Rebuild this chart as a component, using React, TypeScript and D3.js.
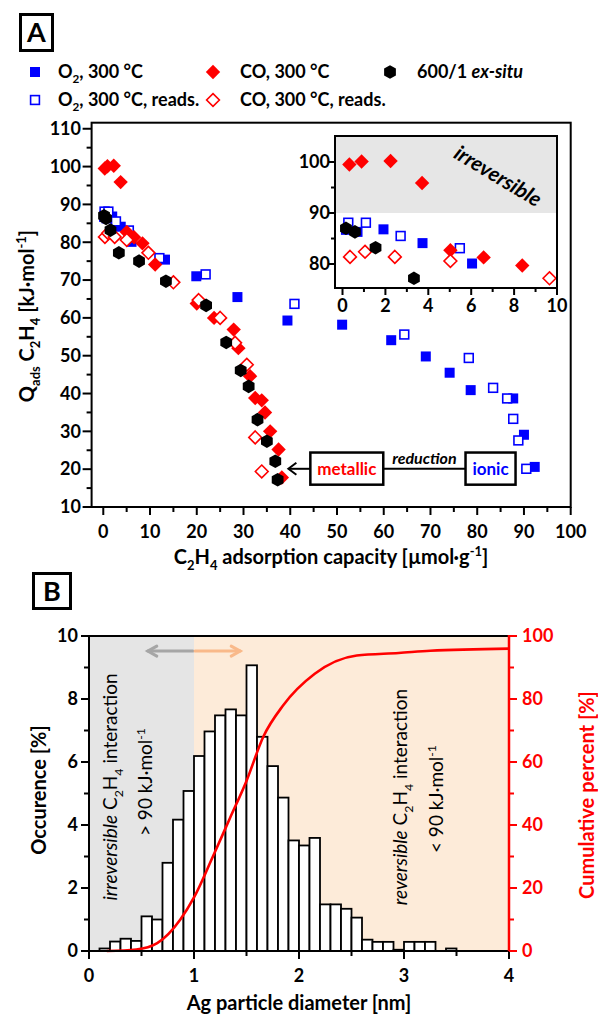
import * as d3 from "d3";

const W = 598;
const H = 1014;
const FONT = "Lato, 'Open Sans', sans-serif";
const BLUE = "#0000ff";
const RED = "#ff0000";

// ---- Panel A data (Q_ads vs adsorption capacity) ----
const o2X = [0.16, 0.7, 1.91, 3.73, 6.04, 13.2, 19.9, 28.7, 39.4, 51.1, 61.6, 69.0, 74.1, 78.6, 87.7, 90.0, 92.3];
const o2Y = [86.7, 86.3, 86.8, 84.1, 80.1, 75.4, 71.0, 65.5, 59.3, 58.2, 54.1, 49.8, 45.5, 40.9, 38.7, 29.1, 20.6];
const o2rX = [0.27, 1.09, 2.71, 5.47, 12.0, 21.9, 40.9, 64.4, 78.2, 83.4, 86.4, 87.7, 88.8, 90.5];
const o2rY = [88.1, 88.1, 85.5, 83.1, 75.8, 71.5, 63.7, 55.6, 49.4, 41.5, 38.7, 33.3, 27.6, 20.1];
const coX = [0.32, 0.89, 2.24, 3.71, 5.03, 6.58, 8.38, 11.1, 20.0, 23.7, 27.9, 28.9, 31.4, 32.5, 33.9, 34.6, 35.7, 37.5, 38.2];
const coY = [99.5, 100.1, 100.2, 95.9, 82.7, 81.3, 79.7, 74.1, 63.8, 60.0, 56.9, 52.0, 44.6, 38.8, 38.2, 35.0, 30.0, 25.2, 17.8];
const corX = [0.35, 1.05, 2.44, 5.03, 9.65, 15.0, 20.4, 25.0, 28.2, 30.7, 32.5, 33.9];
const corY = [81.4, 82.4, 81.4, 80.6, 77.2, 69.4, 64.7, 60.0, 53.4, 47.6, 28.4, 19.4];
const exX = [0.16, 0.58, 1.54, 3.33, 7.65, 13.4, 22.0, 26.3, 29.4, 31.1, 33.0, 35.0, 36.8, 37.3];
const exY = [87.0, 86.3, 83.2, 77.2, 75.0, 69.7, 63.3, 53.5, 46.1, 41.9, 33.1, 27.4, 22.1, 17.2];

const xTicksA = [0, 10, 20, 30, 40, 50, 60, 70, 80, 90, 100];
const yTicksA = [10, 20, 30, 40, 50, 60, 70, 80, 90, 100, 110];
const xTicksI = [0, 2, 4, 6, 8, 10];
const yTicksI = [80, 90, 100];

// ---- Panel B data (particle size histogram) ----
const binLo = [0.1, 0.2, 0.3, 0.4, 0.5, 0.6, 0.7, 0.8, 0.9, 1.0, 1.1, 1.2, 1.3, 1.4, 1.5, 1.6, 1.7, 1.8, 1.9, 2.0, 2.1, 2.2, 2.3, 2.4, 2.5, 2.6, 2.7, 2.8, 2.9, 3.0, 3.1, 3.2, 3.3, 3.4];
const occurence = [0.08, 0.3, 0.39, 0.32, 1.1, 1.0, 2.8, 4.17, 5.08, 6.19, 6.97, 7.48, 7.67, 7.48, 9.07, 6.8, 5.87, 4.87, 3.51, 3.35, 3.59, 1.48, 1.48, 1.34, 1.06, 0.36, 0.29, 0.29, 0.04, 0.29, 0.29, 0.29, 0, 0.08];
const cumX = [0.17, 0.45, 0.65, 0.87, 1.0, 1.18, 1.34, 1.5, 1.66, 1.85, 2.15, 2.55, 2.95, 3.25, 4.0];
const cumY = [0, 0.5, 2.5, 10, 17, 30, 42, 54, 68, 78, 88, 93.8, 94.6, 95.3, 96];
const xTicksB = [0, 1, 2, 3, 4];
const yTicksB = [0, 2, 4, 6, 8, 10];
const yTicksC = [0, 20, 40, 60, 80, 100];

type Part = [string, string?];
function Rich({ parts, fs }: { parts: Part[]; fs: number }) {
  let off = 0;
  return (
    <>
      {parts.map(([t, k], i) => {
        const target = k === "sub" ? fs * 0.3 : k === "sup" ? -fs * 0.38 : 0;
        const dy = target - off;
        off = target;
        const small = k === "sub" || k === "sup";
        return (
          <tspan key={i} dy={dy} fontSize={small ? fs * 0.65 : undefined} fontStyle={k === "i" ? "italic" : undefined}>
            {t}
          </tspan>
        );
      })}
    </>
  );
}

function Marker({ kind, x, y }: { kind: string; x: number; y: number }) {
  if (kind === "sq") return <rect x={x - 5} y={y - 5} width={10} height={10} fill={BLUE} />;
  if (kind === "sqo")
    return <rect x={x - 4.4} y={y - 4.4} width={8.8} height={8.8} fill="#fff" stroke={BLUE} strokeWidth={1.6} />;
  if (kind === "dia" || kind === "diao") {
    const r = kind === "dia" ? 7.2 : 6.4;
    const d = `M${x},${y - r}L${x + r},${y}L${x},${y + r}L${x - r},${y}Z`;
    return kind === "dia" ? <path d={d} fill={RED} /> : <path d={d} fill="#fff" stroke={RED} strokeWidth={1.6} />;
  }
  const pts = d3.range(6).map((i) => {
    const a = Math.PI / 2 + (i * Math.PI) / 3;
    return `${x + 6.8 * Math.cos(a)},${y + 6.8 * Math.sin(a)}`;
  });
  return <polygon points={pts.join(" ")} fill="#000" />;
}

const series = [
  { kind: "sq", xs: o2X, ys: o2Y },
  { kind: "sqo", xs: o2rX, ys: o2rY },
  { kind: "dia", xs: coX, ys: coY },
  { kind: "diao", xs: corX, ys: corY },
  { kind: "hex", xs: exX, ys: exY },
];

export default function App() {
  const xA = d3.scaleLinear().domain([-2.5, 100]).range([91.6, 570.7]);
  const yA = d3.scaleLinear().domain([10, 111.6]).range([507, 122.7]);
  const xI = d3.scaleLinear().domain([-0.35, 10]).range([335, 557]);
  const yI = d3.scaleLinear().domain([75.3, 105.1]).range([288, 136]);
  const xB = d3.scaleLinear().domain([0, 4]).range([89, 509]);
  const yB = d3.scaleLinear().domain([0, 10]).range([951, 636]);
  const yC = d3.scaleLinear().domain([0, 100]).range([951, 636]);

  const cumLine = d3
    .line<number>()
    .x((d, i) => xB(cumX[i]))
    .y((d) => yC(d))
    .curve(d3.curveMonotoneX)(cumY);

  const [ax0, ax1] = xA.range();
  const [ay0, ay1] = yA.range();
  const [ix0, ix1] = xI.range();
  const [iy0, iy1] = yI.range();
  const [bx0, bx1] = xB.range();
  const [by0, by1] = yB.range();

  // annotation anchor (metallic <- reduction -> ionic)
  const annY = yA(20.1);

  return (
    <div style={{ position: "absolute", left: 0, top: 0 }}>
      <svg width={W} height={H} fontFamily={FONT} style={{ display: "block" }}>
        <rect width={W} height={H} fill="#fff" />

        {/* ===== Panel A ===== */}
        <rect x={20.5} y={14.5} width={32} height={36} fill="none" stroke="#000" strokeWidth={3} />
        <text x={36.5} y={42} textAnchor="middle" fontSize={27} fontWeight={700}>A</text>

        {/* legend */}
        <g fontSize={18} fontWeight={700}>
          <Marker kind="sq" x={35} y={72} />
          <text x={58} y={78}><Rich fs={18} parts={[["O"], ["2", "sub"], [", 300 °C"]]} /></text>
          <Marker kind="dia" x={213} y={72} />
          <text x={240} y={78}>CO, 300 °C</text>
          <Marker kind="hex" x={390} y={72} />
          <text x={417} y={78}><Rich fs={18} parts={[["600/1 "], ["ex-situ", "i"]]} /></text>
          <Marker kind="sqo" x={35} y={100} />
          <text x={58} y={106}><Rich fs={18} parts={[["O"], ["2", "sub"], [", 300 °C, reads."]]} /></text>
          <Marker kind="diao" x={213} y={100} />
          <text x={240} y={106}>CO, 300 °C, reads.</text>
        </g>

        {/* main frame */}
        <rect x={ax0} y={ay1} width={ax1 - ax0} height={ay0 - ay1} fill="none" stroke="#000" strokeWidth={2} />
        {xTicksA.map((t) => (
          <g key={"xa" + t}>
            <line x1={xA(t)} x2={xA(t)} y1={ay0} y2={ay0 + 8} stroke="#000" strokeWidth={2} />
            {t < 100 && <line x1={xA(t + 5)} x2={xA(t + 5)} y1={ay0} y2={ay0 + 5} stroke="#000" strokeWidth={2} />}
            <text x={xA(t)} y={538} textAnchor="middle" fontSize={18} fontWeight={700}>{t}</text>
          </g>
        ))}
        {yTicksA.map((t) => (
          <g key={"ya" + t}>
            <line x1={ax0 - 9} x2={ax0} y1={yA(t)} y2={yA(t)} stroke="#000" strokeWidth={2} />
            {t < 110 && <line x1={ax0 - 5} x2={ax0} y1={yA(t + 5)} y2={yA(t + 5)} stroke="#000" strokeWidth={2} />}
            <text x={81} y={yA(t)} dy="0.35em" textAnchor="end" fontSize={18} fontWeight={700}>{t}</text>
          </g>
        ))}
        <text x={331} y={564} textAnchor="middle" fontSize={20} fontWeight={700}>
          <Rich fs={20} parts={[["C"], ["2", "sub"], ["H"], ["4", "sub"], [" adsorption capacity [µmol·g"], ["-1", "sup"], ["]"]]} />
        </text>
        <text transform={`translate(34,316) rotate(-90)`} textAnchor="middle" fontSize={20} fontWeight={700}>
          <Rich fs={20} parts={[["Q"], ["ads", "sub"], [" C"], ["2", "sub"], ["H"], ["4", "sub"], [" [kJ·mol"], ["-1", "sup"], ["]"]]} />
        </text>

        {/* main markers */}
        {series.map((s) =>
          s.xs.map((v, i) => <Marker key={s.kind + i} kind={s.kind} x={xA(v)} y={yA(s.ys[i])} />)
        )}

        {/* annotation */}
        <g>
          <line x1={xA(44.3)} x2={xA(39.6) + 1} y1={annY} y2={annY} stroke="#000" strokeWidth={2} />
          <path d={`M${xA(39.6) + 8},${annY - 6}L${xA(39.6)},${annY}L${xA(39.6) + 8},${annY + 6}`} fill="none" stroke="#000" strokeWidth={2} />
          <line x1={xA(59.9)} x2={xA(77.5)} y1={annY} y2={annY} stroke="#000" strokeWidth={2} />
          <rect x={xA(44.3)} y={yA(24.4)} width={xA(59.9) - xA(44.3)} height={yA(15.9) - yA(24.4)} fill="#fff" stroke="#000" strokeWidth={2.5} />
          <text x={(xA(44.3) + xA(59.9)) / 2} y={annY + 6} textAnchor="middle" fontSize={17} fontWeight={700} fill={RED}>metallic</text>
          <rect x={xA(77.5)} y={yA(24.4)} width={xA(88.2) - xA(77.5)} height={yA(15.9) - yA(24.4)} fill="#fff" stroke="#000" strokeWidth={2.5} />
          <text x={(xA(77.5) + xA(88.2)) / 2} y={annY + 6} textAnchor="middle" fontSize={17} fontWeight={700} fill={BLUE}>ionic</text>
          <text x={(xA(59.9) + xA(77.5)) / 2} y={annY - 5} textAnchor="middle" fontSize={16} fontWeight={700} fontStyle="italic">reduction</text>
        </g>

        {/* inset */}
        <rect x={ix0} y={iy1} width={ix1 - ix0} height={iy0 - iy1} fill="#fff" />
        <rect x={ix0} y={iy1} width={ix1 - ix0} height={yI(90) - iy1} fill="#e6e6e6" />
        <text transform={`translate(498,176) rotate(31)`} textAnchor="middle" dy="0.35em" fontSize={21} fontWeight={700} fontStyle="italic">irreversible</text>
        {series.map((s) =>
          s.xs.map((v, i) => {
            const yv = s.ys[i];
            if (v > 10.2 || yv < 75.3 || yv > 105.1) return null;
            return <Marker key={"i" + s.kind + i} kind={s.kind} x={xI(v)} y={yI(yv)} />;
          })
        )}
        <rect x={ix0} y={iy1} width={ix1 - ix0} height={iy0 - iy1} fill="none" stroke="#000" strokeWidth={2} />
        {xTicksI.map((t) => (
          <g key={"xi" + t}>
            <line x1={xI(t)} x2={xI(t)} y1={iy0} y2={iy0 + 7} stroke="#000" strokeWidth={2} />
            {t < 10 && <line x1={xI(t + 1)} x2={xI(t + 1)} y1={iy0} y2={iy0 + 4} stroke="#000" strokeWidth={2} />}
            <text x={xI(t)} y={312} textAnchor="middle" fontSize={18} fontWeight={700}>{t}</text>
          </g>
        ))}
        {yTicksI.map((t) => (
          <g key={"yi" + t}>
            <line x1={ix0 - 7} x2={ix0} y1={yI(t)} y2={yI(t)} stroke="#000" strokeWidth={2} />
            {t < 100 && <line x1={ix0 - 4} x2={ix0} y1={yI(t + 5)} y2={yI(t + 5)} stroke="#000" strokeWidth={2} />}
            <text x={330} y={yI(t)} dy="0.35em" textAnchor="end" fontSize={18} fontWeight={700}>{t}</text>
          </g>
        ))}

        {/* ===== Panel B ===== */}
        <rect x={33.5} y={573.5} width={37} height={35} fill="none" stroke="#000" strokeWidth={3} />
        <text x={52} y={601} textAnchor="middle" fontSize={27} fontWeight={700}>B</text>

        <rect x={bx0} y={by1} width={xB(1) - bx0} height={by0 - by1} fill="#e5e5e5" />
        <rect x={xB(1)} y={by1} width={bx1 - xB(1)} height={by0 - by1} fill="#fdebd9" />

        {/* arrows */}
        <g strokeWidth={3} fill="none" strokeLinecap="round">
          <line x1={xB(0.99)} x2={xB(0.56)} y1={yB(9.52)} y2={yB(9.52)} stroke="#a6a6a6" />
          <path d={`M${xB(0.56) + 9},${yB(9.52) - 5}L${xB(0.56)},${yB(9.52)}L${xB(0.56) + 9},${yB(9.52) + 5}`} stroke="#a6a6a6" />
          <line x1={xB(1.01)} x2={xB(1.44)} y1={yB(9.52)} y2={yB(9.52)} stroke="#f9b98a" />
          <path d={`M${xB(1.44) - 9},${yB(9.52) - 5}L${xB(1.44)},${yB(9.52)}L${xB(1.44) - 9},${yB(9.52) + 5}`} stroke="#f9b98a" />
        </g>

        {/* rotated notes */}
        <g fontSize={19}>
          <text transform={`translate(117,787) rotate(-90)`} textAnchor="middle" dy="0.35em">
            <Rich fs={19} parts={[["irreversible", "i"], [" C"], ["2", "sub"], ["H"], ["4", "sub"], [" interaction"]]} />
          </text>
          <text transform={`translate(152,782) rotate(-90)`} textAnchor="middle" dy="0.35em">
            <Rich fs={19} parts={[["> 90 kJ·mol"], ["-1", "sup"]]} />
          </text>
          <text transform={`translate(407,797) rotate(-90)`} textAnchor="middle" dy="0.35em">
            <Rich fs={19} parts={[["reversible", "i"], [" C"], ["2", "sub"], ["H"], ["4", "sub"], [" interaction"]]} />
          </text>
          <text transform={`translate(443,799) rotate(-90)`} textAnchor="middle" dy="0.35em">
            <Rich fs={19} parts={[["< 90 kJ·mol"], ["-1", "sup"]]} />
          </text>
        </g>

        {/* histogram */}
        {binLo.map((b, i) =>
          occurence[i] > 0 ? (
            <rect key={"h" + i} x={xB(b)} y={yB(occurence[i])} width={xB(b + 0.1) - xB(b)} height={by0 - yB(occurence[i])} fill="#fff" stroke="#000" strokeWidth={1.8} />
          ) : null
        )}
        <path d={cumLine ?? ""} fill="none" stroke={RED} strokeWidth={2.6} />

        {/* axes B */}
        <line x1={bx0} x2={bx1} y1={by1} y2={by1} stroke="#000" strokeWidth={2} />
        <line x1={bx0} x2={bx1} y1={by0} y2={by0} stroke="#000" strokeWidth={2} />
        <line x1={bx0} x2={bx0} y1={by0} y2={by1} stroke="#000" strokeWidth={2} />
        <line x1={bx1} x2={bx1} y1={by0 + 1} y2={by1 - 1} stroke={RED} strokeWidth={2.5} />
        {xTicksB.map((t) => (
          <g key={"xb" + t}>
            <line x1={xB(t)} x2={xB(t)} y1={by0} y2={by0 + 8} stroke="#000" strokeWidth={2} />
            {t < 4 && <line x1={xB(t + 0.5)} x2={xB(t + 0.5)} y1={by0} y2={by0 + 5} stroke="#000" strokeWidth={2} />}
            <text x={xB(t)} y={982} textAnchor="middle" fontSize={18} fontWeight={700}>{t}</text>
          </g>
        ))}
        {yTicksB.map((t) => (
          <g key={"yb" + t}>
            <line x1={bx0 - 8} x2={bx0} y1={yB(t)} y2={yB(t)} stroke="#000" strokeWidth={2} />
            {t < 10 && <line x1={bx0 - 5} x2={bx0} y1={yB(t + 1)} y2={yB(t + 1)} stroke="#000" strokeWidth={2} />}
            <text x={78} y={yB(t)} dy="0.35em" textAnchor="end" fontSize={18} fontWeight={700}>{t}</text>
          </g>
        ))}
        {yTicksC.map((t) => (
          <g key={"yc" + t} fill={RED}>
            <line x1={bx1} x2={bx1 + 8} y1={yC(t)} y2={yC(t)} stroke={RED} strokeWidth={2} />
            {t < 100 && <line x1={bx1} x2={bx1 + 5} y1={yC(t + 10)} y2={yC(t + 10)} stroke={RED} strokeWidth={2} />}
            <text x={522} y={yC(t)} dy="0.35em" fontSize={18} fontWeight={700}>{t}</text>
          </g>
        ))}
        <text transform={`translate(46,790) rotate(-90)`} textAnchor="middle" fontSize={20} fontWeight={700}>Occurence [%]</text>
        <text transform={`translate(594,795) rotate(-90)`} textAnchor="middle" fontSize={20} fontWeight={700} fill={RED}>Cumulative percent [%]</text>
        <text x={299} y={1010} textAnchor="middle" fontSize={20} fontWeight={700}>Ag particle diameter [nm]</text>
      </svg>
    </div>
  );
}
